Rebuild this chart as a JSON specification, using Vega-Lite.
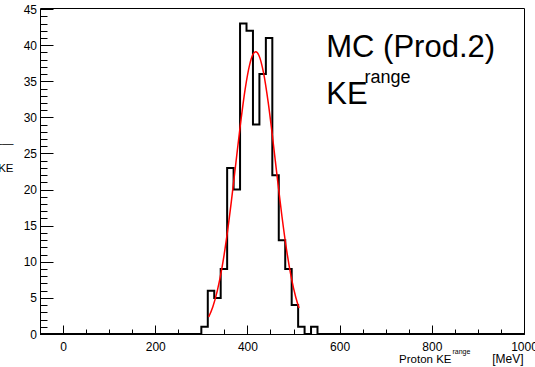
{
  "$schema": "https://vega.github.io/schema/vega-lite/v6.json",
  "width": 484,
  "height": 326,
  "autosize": "none",
  "padding": {"left": 40, "top": 8, "right": 11, "bottom": 33},
  "background": "white",
  "config": {
    "view": {"stroke": "black", "strokeWidth": 1},
    "font": "Liberation Sans",
    "axis": {
      "grid": false,
      "domain": false,
      "tickColor": "black",
      "tickWidth": 1,
      "labelColor": "black",
      "labelFont": "Liberation Sans",
      "labelFontSize": 12,
      "labelFlush": false,
      "labelOverlap": false,
      "labelBound": false,
      "titleFont": "Liberation Sans",
      "titleFontWeight": "normal",
      "titleColor": "black"
    }
  },
  "layer": [
    {
      "data": {"values": [
        {"lo": -50, "n": 0},
        {"lo": 300, "n": 1},
        {"lo": 314, "n": 6},
        {"lo": 328, "n": 5},
        {"lo": 342, "n": 9},
        {"lo": 356, "n": 23},
        {"lo": 370, "n": 20},
        {"lo": 384, "n": 43},
        {"lo": 398, "n": 42},
        {"lo": 412, "n": 29},
        {"lo": 426, "n": 36},
        {"lo": 440, "n": 41},
        {"lo": 454, "n": 22},
        {"lo": 468, "n": 13},
        {"lo": 482, "n": 9},
        {"lo": 496, "n": 4},
        {"lo": 510, "n": 1},
        {"lo": 524, "n": 0},
        {"lo": 538, "n": 1},
        {"lo": 552, "n": 0},
        {"lo": 1000, "n": 0}
      ]},
      "mark": {"type": "line", "interpolate": "step-after", "color": "black", "strokeWidth": 2},
      "encoding": {
        "x": {
          "field": "lo", "type": "quantitative",
          "scale": {"domain": [-50, 1000], "nice": false, "zero": false},
          "axis": {
            "values": [0, 200, 400, 600, 800, 1000],
            "format": "d",
            "tickSize": -9,
            "labelPadding": 16,
            "title": "Proton KE",
            "titleFontSize": 11.5,
            "titleAlign": "right",
            "titleBaseline": "alphabetic",
            "titleAnchor": null,
            "titleX": 411,
            "titleY": 28
          }
        },
        "y": {
          "field": "n", "type": "quantitative",
          "scale": {"domain": [0, 45.15], "nice": false, "zero": true},
          "axis": {
            "values": [0, 5, 10, 15, 20, 25, 30, 35, 40, 45],
            "tickSize": -13,
            "labelPadding": 16.5,
            "title": ["\u2014\u2014", "dKE"],
            "titleAngle": 0,
            "titleFontSize": 11.5,
            "titleAlign": "right",
            "titleBaseline": "alphabetic",
            "titleLineHeight": 25,
            "titleAnchor": null,
            "titleX": -27,
            "titleY": 138
          }
        }
      }
    },
    {
      "data": {"values": [
        {"ke": 316, "fit": 2.35},
        {"ke": 325, "fit": 3.77},
        {"ke": 335, "fit": 6.07},
        {"ke": 345, "fit": 9.25},
        {"ke": 355, "fit": 13.37},
        {"ke": 365, "fit": 18.29},
        {"ke": 375, "fit": 23.72},
        {"ke": 385, "fit": 29.13},
        {"ke": 395, "fit": 33.89},
        {"ke": 405, "fit": 37.35},
        {"ke": 412, "fit": 38.72},
        {"ke": 418, "fit": 39.1},
        {"ke": 425, "fit": 38.58},
        {"ke": 435, "fit": 36.16},
        {"ke": 445, "fit": 32.1},
        {"ke": 455, "fit": 27.01},
        {"ke": 465, "fit": 21.52},
        {"ke": 475, "fit": 16.24},
        {"ke": 485, "fit": 11.62},
        {"ke": 495, "fit": 7.87},
        {"ke": 505, "fit": 5.05},
        {"ke": 512, "fit": 3.59}
      ]},
      "mark": {"type": "line", "interpolate": "monotone", "color": "#ff0000", "strokeWidth": 1.5},
      "encoding": {
        "x": {
          "field": "ke", "type": "quantitative",
          "scale": {"domain": [-50, 1000], "nice": false, "zero": false},
          "axis": {
            "orient": "bottom",
            "values": [-50, 0, 50, 100, 150, 200, 250, 300, 350, 400, 450, 500, 550, 600, 650, 700, 750, 800, 850, 900, 950, 1000],
            "tickSize": -5,
            "labels": false,
            "title": "[MeV]",
            "titleFontSize": 12,
            "titleAlign": "right",
            "titleBaseline": "alphabetic",
            "titleAnchor": null,
            "titleX": 483,
            "titleY": 28
          }
        },
        "y": {
          "field": "fit", "type": "quantitative",
          "scale": {"domain": [0, 45.15], "nice": false},
          "axis": {
            "orient": "left",
            "values": [0,1,2,3,4,5,6,7,8,9,10,11,12,13,14,15,16,17,18,19,20,21,22,23,24,25,26,27,28,29,30,31,32,33,34,35,36,37,38,39,40,41,42,43,44,45],
            "tickSize": -7,
            "labels": false,
            "title": "range",
            "titleAngle": 0,
            "titleFontSize": 7,
            "titleAlign": "left",
            "titleBaseline": "alphabetic",
            "titleAnchor": null,
            "titleX": 412,
            "titleY": 345
          }
        }
      }
    },
    {
      "data": {"values": [{"label": "MC (Prod.2)"}]},
      "mark": {"type": "text", "fontSize": 31, "align": "left", "baseline": "alphabetic", "color": "black", "font": "Liberation Sans"},
      "encoding": {
        "text": {"field": "label"},
        "x": {"datum": 571, "type": "quantitative", "axis": null},
        "y": {"datum": 38.37, "type": "quantitative", "axis": null}
      }
    },
    {
      "data": {"values": [{"label": "KE"}]},
      "mark": {"type": "text", "fontSize": 31, "align": "left", "baseline": "alphabetic", "color": "black", "font": "Liberation Sans"},
      "encoding": {
        "text": {"field": "label"},
        "x": {"datum": 571, "type": "quantitative", "axis": null},
        "y": {"datum": 31.86, "type": "quantitative", "axis": null}
      }
    },
    {
      "data": {"values": [{"label": "range"}]},
      "mark": {"type": "text", "fontSize": 18, "align": "left", "baseline": "alphabetic", "color": "black", "font": "Liberation Sans"},
      "encoding": {
        "text": {"field": "label"},
        "x": {"datum": 654, "type": "quantitative", "axis": null},
        "y": {"datum": 34.7, "type": "quantitative", "axis": null}
      }
    }
  ],
  "resolve": {"axis": {"x": "independent", "y": "independent"}}
}
